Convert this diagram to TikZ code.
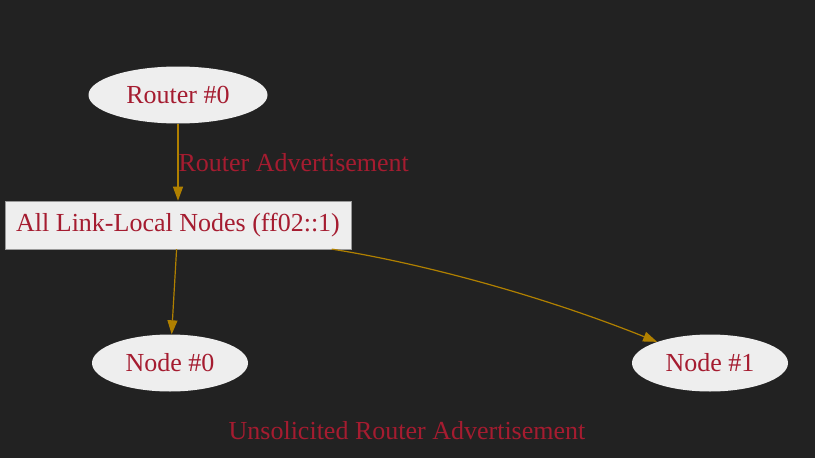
\documentclass[tikz,border=0pt]{standalone}
\usepackage{fontspec}
\setmainfont{Liberation Serif}
\usepackage{tikz}
\usetikzlibrary{arrows.meta,calc,positioning,shapes}

\definecolor{bgdark}{HTML}{222222}
\definecolor{nodefill}{HTML}{EEEEEE}
\definecolor{labelred}{HTML}{A51C30}
\definecolor{edgegold}{HTML}{B08000}

\begin{document}
\begin{tikzpicture}[auto,>={Triangle[length=14pt,width=10pt]},x=1pt,y=-1pt]
	\tikzstyle{host} = [ellipse, fill=nodefill, text=labelred, inner sep=0pt, minimum height=57pt, font=\fontsize{26}{30}\selectfont]
	\tikzstyle{group} = [draw=gray!80, rectangle, fill=nodefill, text=labelred, minimum height=48pt, minimum width=346pt, font=\fontsize{26}{30}\selectfont]
	\tikzstyle{msg} = [->, draw=edgegold, line width=1.2pt]
	
	\fill[bgdark] (0,0) rectangle (815,458);
	\useasboundingbox (0,0) rectangle (815,458);
	
	\node[host, minimum width=179pt] (router0) at (178,95) {Router \#0};
	
	\node[group, below = 77pt of router0] (allnodes) {All Link-Local Nodes (ff02::1)};
	
	\node[host, minimum width=156pt] (node0) at (170,363) {Node \#0};
	\node[host, minimum width=156pt] (node1) at (710,363) {Node \#1};
	
	\node[text=labelred, font=\fontsize{26}{30}\selectfont] (title) at (407,431) {Unsolicited Router Advertisement};
	
	\draw[msg] (router0) --node[right, inner sep=0pt, text=labelred, font=\fontsize{26}{30}\selectfont]{Router Advertisement} (allnodes);
	\draw[msg] (allnodes) -- (node0);
	\draw[msg] (allnodes) .. controls (420,263) and (540,295) .. (node1);
	
\end{tikzpicture}
\end{document}
